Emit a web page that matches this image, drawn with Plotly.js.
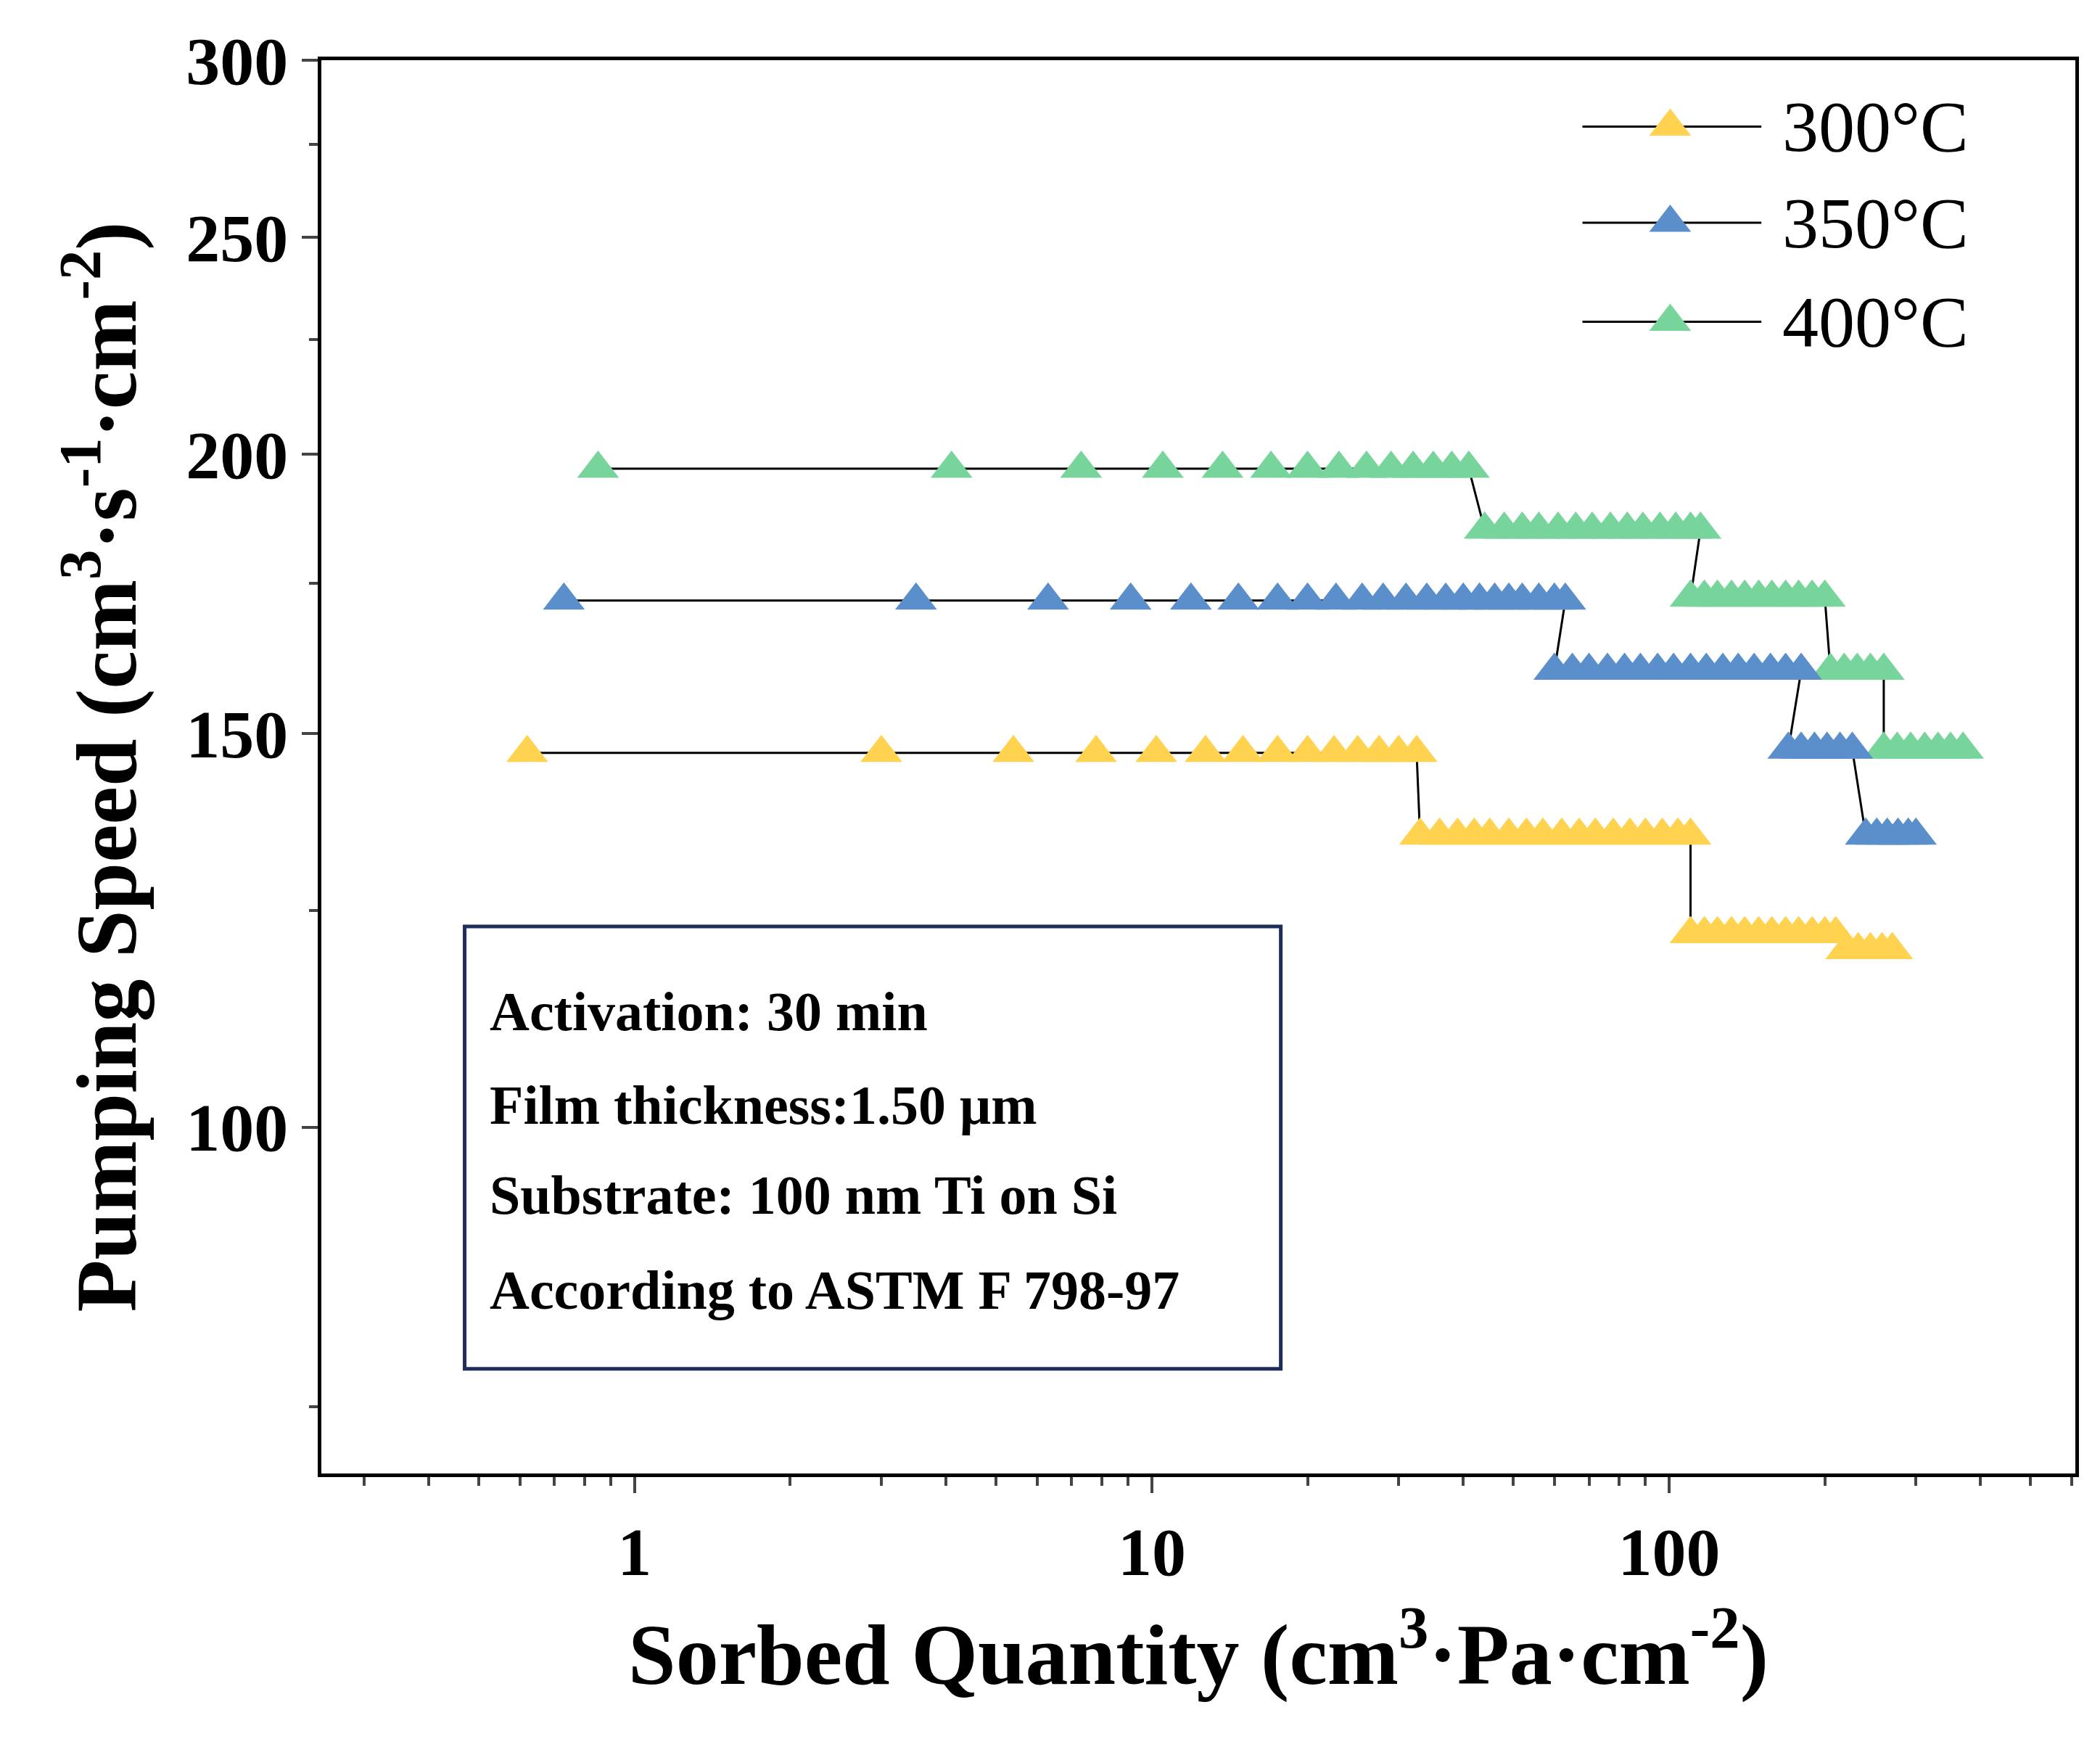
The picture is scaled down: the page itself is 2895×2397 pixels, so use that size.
<!DOCTYPE html>
<html><head><meta charset="utf-8">
<script src="https://cdn.plot.ly/plotly-3.0.1.min.js"></script>
<style>body{margin:0}</style></head>
<body><div id="c" style="width:2895px;height:2397px"></div>
<script>
const x300=[0.62,3.0,5.4,7.8,10.2,12.7,15,17.5,20,22.5,25,27.5,30,32.5,
 33,36,39,42,45,49,53,57,62,67,72,78,84,90,97,104,110,
 110,117,124,132,140,149,158,168,178,189,200,210,
 220,232,245,258,270];
const y300=[147,147,147,147,147,147,147,147,147,147,147,147,147,147,
 135,135,135,135,135,135,135,135,135,135,135,135,135,135,135,135,135,
 122,122,122,122,122,122,122,122,122,122,122,122,
 120,120,120,120,120];
const x350=[0.73,3.5,6.3,9.1,11.9,14.7,17.5,20,22.7,25.5,28,31,34,37,40,43,46,49,52,56,60,63,
 60,65,70,76,82,88,95,102,110,118,127,136,146,157,168,180,
 170,180,191,202,214,226,
 240,252,264,277,290,300];
const y350=[172,172,172,172,172,172,172,172,172,172,172,172,172,172,172,172,172,172,172,172,172,172,
 160,160,160,160,160,160,160,160,160,160,160,160,160,160,160,160,
 147.5,147.5,147.5,147.5,147.5,147.5,
 135,135,135,135,135,135];
const x400=[0.85,4.1,7.3,10.5,13.7,17,20,23,26,29,32,35,38,41,
 44,48,52,56,61,66,71,77,83,89,96,103,110,115,
 110,117,124,132,140,149,158,168,178,189,200,
 205,218,231,245,260,
 260,276,293,312,331,350,370];
const y400=[197,197,197,197,197,197,197,197,197,197,197,197,197,197,
 185,185,185,185,185,185,185,185,185,185,185,185,185,185,
 172.5,172.5,172.5,172.5,172.5,172.5,172.5,172.5,172.5,172.5,172.5,
 160,160,160,160,160,
 147.5,147.5,147.5,147.5,147.5,147.5,147.5];
const names=['300°C','350°C','400°C'];
const colors=['#FFD34F','#5B8FCB','#77D49A'];
const XS=[x300,x350,x400], YS=[y300,y350,y400];
const yTicks=[100,150,200,250,300];
const boxLines=['Activation: 30 min','Film thickness:1.50 μm','Substrate: 100 nm Ti on Si','According to ASTM F 798-97'];
const F='Liberation Serif, Times New Roman, serif';
const legY=[0.953,0.885,0.815];
const data=XS.map((x,i)=>({x:x,y:YS[i],name:names[i],type:'scatter',mode:'lines+markers',showlegend:false,
 line:{color:'#000',width:3},marker:{symbol:'triangle-up',size:50,color:colors[i]}}));
data.reverse();
// custom legend
names.forEach((n,i)=>{
 data.push({x:[0.719,0.821],y:[legY[i],legY[i]],xaxis:'x2',yaxis:'y2',mode:'lines',line:{color:'#000',width:3},showlegend:false,hoverinfo:'skip'});
 data.push({x:[0.769],y:[legY[i]],xaxis:'x2',yaxis:'y2',mode:'markers',marker:{symbol:'triangle-up',size:50,color:colors[i]},showlegend:false,hoverinfo:'skip'});
});
const ann=boxLines.map((t,i)=>({xref:'paper',yref:'paper',x:0.095,y:[0.327,0.261,0.197,0.130][i],
 xanchor:'left',yanchor:'middle',showarrow:false,text:'<b>'+t+'</b>',font:{family:F,size:76,color:'#000'}}));
names.forEach((n,i)=>ann.push({xref:'paper',yref:'paper',x:0.832,y:legY[i],xanchor:'left',yanchor:'middle',showarrow:false,
 text:n,font:{family:F,size:100,color:'#000'}}));
Plotly.newPlot('c',data,{
 width:2895,height:2397,margin:{l:443,r:34,t:83,b:366},
 paper_bgcolor:'#fff',plot_bgcolor:'#fff',showlegend:false,
 xaxis2:{overlaying:'x',range:[0,1],visible:false},
 yaxis2:{overlaying:'y',range:[0,1],visible:false},
 xaxis:{type:'log',range:[Math.log10(0.248),Math.log10(610)],showline:true,linewidth:5,linecolor:'#000',mirror:true,
  showgrid:false,zeroline:false,ticks:'outside',ticklen:22,tickwidth:4,tickvals:[1,10,100],ticktext:['1','10','100'],
  minor:{tickvals:[0.3,0.4,0.5,0.6,0.7,0.8,0.9,2,3,4,5,6,7,8,9,20,30,40,50,60,70,80,90,200,300,400,500,600],ticks:'outside',ticklen:12,tickwidth:4,showgrid:false},
  tickfont:{family:F,size:94,color:'#000',weight:'bold'},
  title:{text:'<b>Sorbed Quantity (cm<sup>3</sup>·Pa·cm<sup>-2</sup>)</b>',font:{family:F,size:118,color:'#000'},standoff:50}},
 yaxis:{type:'log',range:[Math.log10(70),Math.log10(300)],showline:true,linewidth:5,linecolor:'#000',mirror:true,
  showgrid:false,zeroline:false,ticks:'outside',ticklen:22,tickwidth:4,tickvals:yTicks,ticktext:yTicks.map(String),
  minor:{tickvals:[75,125,175,225,275],ticks:'outside',ticklen:12,tickwidth:4,showgrid:false},
  tickfont:{family:F,size:94,color:'#000',weight:'bold'},
  title:{text:'<b>Pumping Speed (cm<sup>3</sup>·s<sup>-1</sup>·cm<sup>-2</sup>)</b>',font:{family:F,size:118,color:'#000'},standoff:30}},
 shapes:[{type:'rect',xref:'paper',yref:'paper',x0:0.0817,x1:0.547,y0:0.074,y1:0.387,line:{color:'#1f2d5a',width:5}}],
 annotations:ann
},{displayModeBar:false});
</script></body></html>
